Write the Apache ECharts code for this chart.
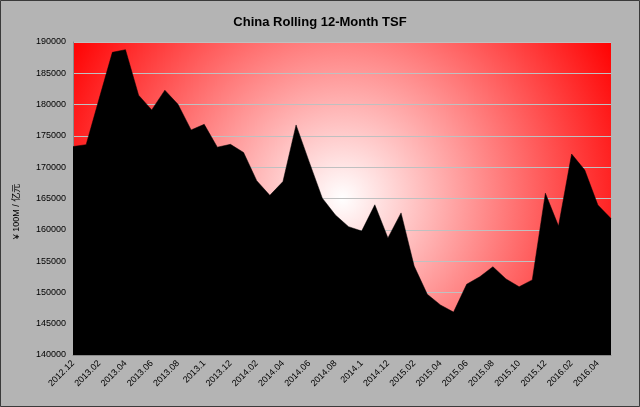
<!DOCTYPE html>
<html>
<head>
<meta charset="utf-8">
<script src="https://cdn.jsdelivr.net/npm/echarts@6/dist/echarts.min.js"></script>
<style>
  html, body { margin: 0; padding: 0; background: #b4b4b4; }
  #chart { width: 640px; height: 407px; }
</style>
</head>
<body>
<div id="chart"></div>
<script>
// months shown on the category axis (labels as printed in the source chart)
var months = [
  '2012.12', '2013.01', '2013.02', '2013.03', '2013.04', '2013.05', '2013.06', '2013.07',
  '2013.08', '2013.09', '2013.1', '2013.11', '2013.12', '2014.01', '2014.02', '2014.03',
  '2014.04', '2014.05', '2014.06', '2014.07', '2014.08', '2014.09', '2014.1', '2014.11',
  '2014.12', '2015.01', '2015.02', '2015.03', '2015.04', '2015.05', '2015.06', '2015.07',
  '2015.08', '2015.09', '2015.10', '2015.11', '2015.12', '2016.01', '2016.02', '2016.03',
  '2016.04', '2016.05'
];

// rolling 12-month TSF, 100M yuan
var tsf = [
  173300, 173600, 181000, 188350, 188770, 181500, 179150, 182300,
  180050, 175950, 176850, 173200, 173650, 172350, 167850, 165500,
  167700, 176750, 170850, 165050, 162350, 160500, 159800, 164000,
  158700, 162700, 154200, 149700, 148000, 146850, 151300, 152500,
  154100, 152150, 150900, 152000, 165850, 160600, 172100, 169550,
  163950, 161800
];

var yTicks = { min: 140000, max: 190000, step: 5000 };

var chart = echarts.init(document.getElementById('chart'));

var option = {
  backgroundColor: '#b4b4b4',
  animation: false,
  title: {
    text: 'China Rolling 12-Month TSF',
    left: 'center',
    top: 11,
    textStyle: { fontFamily: 'Liberation Sans, Arial', fontSize: 13, fontWeight: 'bold', color: '#000' }
  },
  graphic: [{
    type: 'rect',
    shape: { x: 0.5, y: 0.5, width: 639, height: 406 },
    style: { fill: null, stroke: '#3a3a3a', lineWidth: 1 },
    silent: true
  }],
  grid: {
    left: 73,
    right: 29,
    top: 42,
    bottom: 52,
    show: true,
    borderWidth: 0,
    // plot area: white centre fading out to red corners
    backgroundColor: new echarts.graphic.RadialGradient(0.5, 0.5, 1.0, [
      { offset: 0, color: '#ffffff' },
      { offset: 1, color: '#ff0000' }
    ])
  },
  xAxis: {
    type: 'category',
    data: months,
    boundaryGap: false,
    axisLine: { lineStyle: { color: '#8a8a8a', width: 1 } },
    axisTick: { show: false },
    axisLabel: {
      interval: 1,
      rotate: 45,
      margin: 7,
      fontFamily: 'Liberation Sans, Arial',
      fontSize: 9,
      color: '#000'
    },
    splitLine: { show: false }
  },
  yAxis: {
    type: 'value',
    min: yTicks.min,
    max: yTicks.max,
    interval: yTicks.step,
    name: '¥ 100M / 亿元',
    nameLocation: 'middle',
    nameGap: 52,
    nameRotate: 90,
    nameTextStyle: { fontFamily: 'Liberation Sans, Noto Sans CJK SC', fontSize: 9, color: '#000', padding: [0, 26, 0, 0] },
    axisLine: { show: true, lineStyle: { color: '#8a8a8a', width: 1 } },
    axisTick: { show: false },
    axisLabel: {
      margin: 7,
      fontFamily: 'Liberation Sans, Arial',
      fontSize: 9,
      color: '#000',
      formatter: function (v) { return String(v); }
    },
    splitLine: { show: true, lineStyle: { color: '#c0c0c0', width: 1 } }
  },
  series: [{
    name: 'TSF',
    type: 'line',
    data: tsf,
    showSymbol: false,
    smooth: false,
    lineStyle: { color: '#000', width: 0.5 },
    areaStyle: { color: '#000', opacity: 1, origin: 'start' }
  }]
};

chart.setOption(option);
</script>
</body>
</html>
